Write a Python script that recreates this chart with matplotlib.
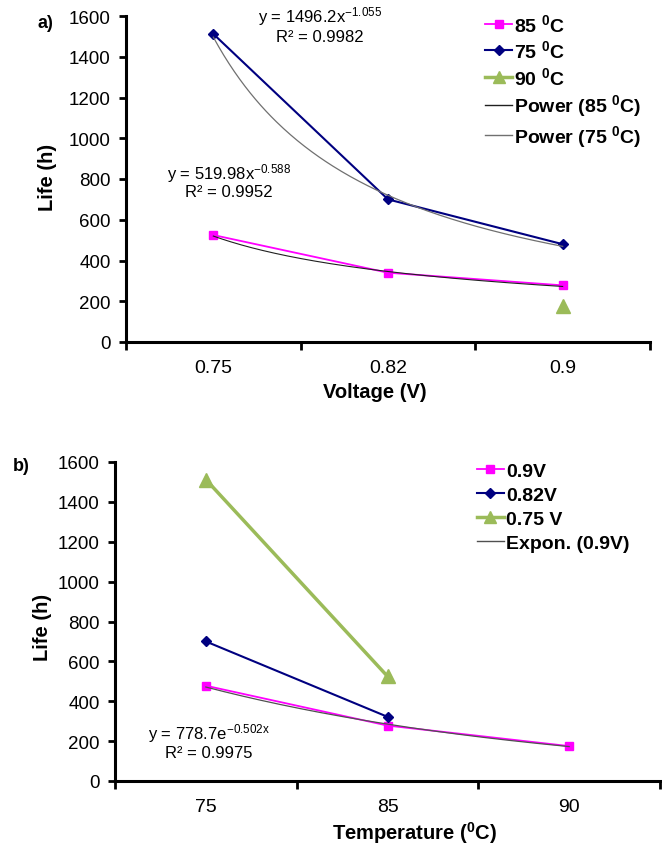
import matplotlib
matplotlib.use('Agg')
import matplotlib.pyplot as plt
from matplotlib.lines import Line2D
import numpy as np

plt.rcParams['font.family'] = ['Liberation Sans', 'DejaVu Sans']
plt.rcParams['mathtext.fontset'] = 'custom'
plt.rcParams['mathtext.rm'] = 'Liberation Sans'
plt.rcParams['mathtext.it'] = 'Liberation Sans:italic'
plt.rcParams['mathtext.bf'] = 'Liberation Sans:bold'

# Panel a data: life vs voltage
voltages = ['0.75', '0.82', '0.9']
life_85C = [525, 340, 278]
life_75C = [1512, 700, 480]
life_90C = [None, None, 175]
# power trendline coefficients (y = a * x^b, x = category index)
pow85 = (519.98, -0.588)
pow75 = (1496.2, -1.055)

# Panel b data: life vs temperature
temps = ['75', '85', '90']
life_090V = [478, 278, 175]
life_082V = [700, 322, None]
life_075V = [1512, 525, None]
exp09 = (778.7, -0.502)

MAGENTA = '#FF00FF'
NAVY = '#000080'
GREEN = '#9BBB59'
W, H = 662, 845

fig = plt.figure(figsize=(W / 100, H / 100), dpi=100)


def style_axes(ax, labels):
    ax.set_xlim(0.5, 3.5)
    ax.set_ylim(0, 1600)
    ax.set_yticks(range(0, 1601, 200))
    ax.set_xticks([0.5, 1.5, 2.5, 3.5])
    ax.set_xticklabels([])
    ax.set_xticks([1, 2, 3], minor=True)
    ax.set_xticklabels(labels, minor=True)
    ax.tick_params(axis='x', which='minor', length=0, pad=12, labelsize=14)
    ax.tick_params(axis='x', which='major', length=6, width=2, direction='out')
    ax.tick_params(axis='y', length=5, width=2, direction='out', labelsize=13.5, pad=6)
    for s in ['top', 'right']:
        ax.spines[s].set_visible(False)
    for s in ['left', 'bottom']:
        ax.spines[s].set_linewidth(2.2)
    ax.patch.set_alpha(0)


def to_xy(vals):
    xs = [i + 1 for i, v in enumerate(vals) if v is not None]
    ys = [v for v in vals if v is not None]
    return xs, ys


deg = '$^\\mathbf{0}$'
leg_kw = dict(loc='upper left', frameon=False, numpoints=1, handlelength=1.4,
              handletextpad=0.12, borderpad=0, borderaxespad=0,
              prop={'weight': 'bold', 'size': 14})

# ---------------- panel a ----------------
axa = fig.add_axes([126 / W, 1 - 343 / H, 524 / W, 326 / H])
style_axes(axa, voltages)
xx = np.linspace(1, 3, 200)

x, y = to_xy(life_85C)
axa.plot(x, y, color=MAGENTA, lw=1.3, marker='s', ms=5.5, zorder=3)
x, y = to_xy(life_75C)
axa.plot(x, y, color=NAVY, lw=1.5, marker='D', ms=5.5, zorder=3)
x, y = to_xy(life_90C)
axa.plot(x, y, color=GREEN, lw=0, marker='^', ms=10, zorder=3)
axa.plot(xx, pow85[0] * xx ** pow85[1], color='#202020', lw=0.8, zorder=4)
axa.plot(xx, pow75[0] * xx ** pow75[1], color='#707070', lw=0.9, zorder=4)

axa.text(1.61, 1600, 'y = 1496.2x$^{-1.055}$', ha='center', va='center', fontsize=12)
axa.text(1.61, 1499, 'R² = 0.9982', ha='center', va='center', fontsize=12)
axa.text(1.087, 833, 'y = 519.98x$^{-0.588}$', ha='center', va='center', fontsize=12)
axa.text(1.087, 738, 'R² = 0.9952', ha='center', va='center', fontsize=12)

handles_a = [
    Line2D([], [], color=MAGENTA, lw=1.3, marker='s', ms=5.5),
    Line2D([], [], color=NAVY, lw=1.5, marker='D', ms=5.5),
    Line2D([], [], color=GREEN, lw=2.5, marker='^', ms=9),
    Line2D([], [], color='#202020', lw=1),
    Line2D([], [], color='#707070', lw=1),
]
labels_a = ['85 ' + deg + 'C', '75 ' + deg + 'C', '90 ' + deg + 'C',
            'Power (85 ' + deg + 'C)', 'Power (75 ' + deg + 'C)']
axa.legend(handles_a, labels_a, bbox_to_anchor=(0.685, 1.01), labelspacing=0.24, **leg_kw)

fig.text(47 / W, 1 - 177 / H, 'Life (h)', rotation=90, ha='center', va='center',
         fontsize=14.5, fontweight='bold')
fig.text(375 / W, 1 - 393 / H, 'Voltage (V)', ha='center', va='center',
         fontsize=14.5, fontweight='bold')
fig.text(45 / W, 1 - 23 / H, 'a)', ha='center', va='center', fontsize=13, fontweight='bold')

# ---------------- panel b ----------------
axb = fig.add_axes([115 / W, 1 - 782 / H, 545 / W, 319 / H])
style_axes(axb, temps)

x, y = to_xy(life_090V)
axb.plot(x, y, color=MAGENTA, lw=1.3, marker='s', ms=5.5, zorder=3)
x, y = to_xy(life_082V)
axb.plot(x, y, color=NAVY, lw=1.5, marker='D', ms=5.5, zorder=3)
x, y = to_xy(life_075V)
axb.plot(x, y, color=GREEN, lw=2.5, marker='^', ms=10, zorder=3)
axb.plot(xx, exp09[0] * np.exp(exp09[1] * xx), color='#505050', lw=0.9, zorder=4)

axb.text(1.016, 242, 'y = 778.7e$^{-0.502\\mathrm{x}}$', ha='center', va='center', fontsize=12)
axb.text(1.016, 142, 'R² = 0.9975', ha='center', va='center', fontsize=12)

handles_b = [
    Line2D([], [], color=MAGENTA, lw=1.3, marker='s', ms=5.5),
    Line2D([], [], color=NAVY, lw=1.5, marker='D', ms=5.5),
    Line2D([], [], color=GREEN, lw=2.5, marker='^', ms=9),
    Line2D([], [], color='#505050', lw=1),
]
labels_b = ['0.9V', '0.82V', '0.75 V', 'Expon. (0.9V)']
axb.legend(handles_b, labels_b, bbox_to_anchor=(0.664, 1.0), labelspacing=0.33, **leg_kw)

fig.text(43 / W, 1 - 627 / H, 'Life (h)', rotation=90, ha='center', va='center',
         fontsize=14.5, fontweight='bold')
fig.text(415 / W, 1 - 833 / H, 'Temperature (' + deg + 'C)', ha='center', va='center',
         fontsize=14.5, fontweight='bold')
fig.text(21 / W, 1 - 467 / H, 'b)', ha='center', va='center', fontsize=13, fontweight='bold')

fig.savefig('out.png', dpi=100)
